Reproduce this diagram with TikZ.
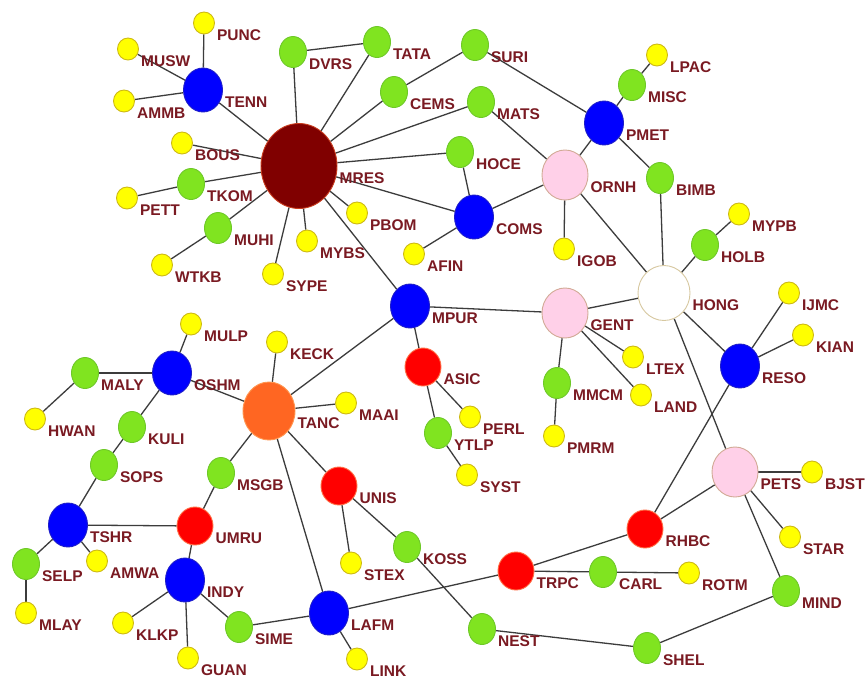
\documentclass[tikz,border=0pt]{standalone}
\usepackage{fontspec}
\setmainfont{Liberation Sans}
\usetikzlibrary{shapes.geometric,calc}
\pgfdeclarelayer{bg}
\pgfsetlayers{bg,main}
\definecolor{cY}{RGB}{255,255,0}
\definecolor{cYb}{RGB}{205,185,20}
\definecolor{cG}{RGB}{128,228,32}
\definecolor{cGb}{RGB}{110,200,40}
\definecolor{cB}{RGB}{0,0,255}
\definecolor{cBb}{RGB}{30,30,200}
\definecolor{cR}{RGB}{255,0,0}
\definecolor{cRb}{RGB}{255,110,70}
\definecolor{cO}{RGB}{255,102,34}
\definecolor{cOb}{RGB}{255,150,80}
\definecolor{cM}{RGB}{128,0,0}
\definecolor{cMb}{RGB}{200,60,30}
\definecolor{cP}{RGB}{255,208,232}
\definecolor{cPb}{RGB}{210,170,150}
\definecolor{cWb}{RGB}{215,200,160}
\definecolor{cT}{RGB}{122,26,34}
\definecolor{cE}{RGB}{60,60,60}
\tikzset{
  base/.style={ellipse, draw, line width=0.9pt, inner sep=0pt},
  yn/.style={base, fill=cY, draw=cYb, minimum width=21, minimum height=22},
  gn/.style={base, fill=cG, draw=cGb, minimum width=27, minimum height=31},
  bn/.style={base, fill=cB, draw=cBb, minimum width=39, minimum height=44},
  rn/.style={base, fill=cR, draw=cRb, minimum width=36, minimum height=38},
  on/.style={base, fill=cO, draw=cOb, minimum width=52, minimum height=58},
  mn/.style={base, fill=cM, draw=cMb, minimum width=76, minimum height=85},
  pn/.style={base, fill=cP, draw=cPb, minimum width=46, minimum height=50},
  wn/.style={base, fill=white, draw=cWb, minimum width=52, minimum height=55},
  lbl/.style={anchor=west, inner sep=0pt, text=cT, font=\bfseries\fontsize{15.5}{16}\selectfont},
  edge/.style={draw=cE, line width=1.3pt}
}
\newcommand\gnode[4]{\node[#1] (#2) at (#3,#4) {}; \node[lbl] (#2L) at ($(#2.east)+(2,12)$) {#2};}
\begin{document}
\begin{tikzpicture}[x=1pt,y=-1pt]
\useasboundingbox (0,0) rectangle (865,678);
\gnode{mn}{MRES}{299}{166}
\gnode{bn}{TENN}{203}{90}
\gnode{yn}{PUNC}{204}{23}
\gnode{yn}{MUSW}{128}{49}
\gnode{yn}{AMMB}{124}{101}
\gnode{yn}{BOUS}{182}{143}
\gnode{gn}{TKOM}{191}{184}
\gnode{yn}{PETT}{127}{198}
\gnode{gn}{MUHI}{218}{228}
\gnode{yn}{WTKB}{162}{265}
\gnode{yn}{SYPE}{273}{274}
\gnode{yn}{MYBS}{307}{241}
\gnode{yn}{PBOM}{357}{213}
\gnode{gn}{DVRS}{293}{52}
\gnode{gn}{TATA}{377}{42}
\gnode{gn}{SURI}{475}{45}
\gnode{gn}{CEMS}{394}{92}
\gnode{gn}{MATS}{481}{102}
\gnode{gn}{HOCE}{460}{152}
\gnode{bn}{COMS}{474}{217}
\gnode{yn}{AFIN}{414}{254}
\gnode{pn}{ORNH}{565}{175}
\gnode{bn}{PMET}{604}{123}
\gnode{gn}{MISC}{632}{85}
\gnode{yn}{LPAC}{657}{55}
\gnode{gn}{BIMB}{660}{178}
\gnode{yn}{IGOB}{564}{249}
\gnode{yn}{MYPB}{739}{214}
\gnode{gn}{HOLB}{705}{245}
\gnode{wn}{HONG}{664}{293}
\gnode{pn}{GENT}{565}{313}
\gnode{bn}{MPUR}{410}{306}
\gnode{yn}{LTEX}{633}{357}
\gnode{yn}{LAND}{641}{395}
\gnode{gn}{MMCM}{557}{383}
\gnode{yn}{PMRM}{554}{436}
\gnode{yn}{IJMC}{789}{293}
\gnode{yn}{KIAN}{803}{335}
\gnode{bn}{RESO}{740}{366}
\gnode{pn}{PETS}{735}{472}
\gnode{yn}{BJST}{812}{472}
\gnode{yn}{STAR}{790}{537}
\gnode{rn}{RHBC}{645}{529}
\gnode{gn}{CARL}{603}{572}
\gnode{yn}{ROTM}{689}{573}
\gnode{gn}{MIND}{786}{591}
\gnode{gn}{SHEL}{647}{648}
\gnode{rn}{ASIC}{423}{367}
\gnode{yn}{PERL}{470}{417}
\gnode{gn}{YTLP}{438}{433}
\gnode{yn}{SYST}{467}{475}
\gnode{on}{TANC}{269}{411}
\gnode{yn}{KECK}{277}{342}
\gnode{yn}{MAAI}{346}{403}
\gnode{gn}{MSGB}{221}{473}
\gnode{rn}{UNIS}{339}{486}
\gnode{yn}{STEX}{351}{563}
\gnode{gn}{KOSS}{407}{547}
\gnode{rn}{TRPC}{516}{571}
\gnode{gn}{NEST}{482}{629}
\gnode{bn}{LAFM}{329}{613}
\gnode{yn}{LINK}{357}{659}
\gnode{gn}{SIME}{239}{627}
\gnode{bn}{INDY}{185}{580}
\gnode{yn}{KLKP}{123}{623}
\gnode{yn}{GUAN}{188}{658}
\gnode{rn}{UMRU}{195}{526}
\gnode{bn}{TSHR}{68}{525}
\gnode{gn}{SOPS}{104}{465}
\gnode{gn}{KULI}{132}{427}
\gnode{bn}{OSHM}{172}{373}
\gnode{yn}{MULP}{191}{324}
\gnode{gn}{MALY}{85}{373}
\gnode{yn}{HWAN}{35}{419}
\gnode{gn}{SELP}{26}{564}
\gnode{yn}{AMWA}{97}{561}
\gnode{yn}{MLAY}{26}{613}
\begin{pgfonlayer}{bg}
\fill[white] (0,0) rectangle (865,678);
\foreach \a/\b in {MRES/TENN, MRES/BOUS, MRES/TKOM, MRES/MUHI, MRES/SYPE, MRES/MYBS,
  MRES/PBOM, MRES/MPUR, MRES/COMS, MRES/HOCE, MRES/MATS, MRES/CEMS, MRES/TATA, MRES/DVRS,
  DVRS/TATA, TENN/PUNC, TENN/MUSW, TENN/AMMB, TKOM/PETT, MUHI/WTKB,
  SURI/CEMS, SURI/PMET, MATS/ORNH, HOCE/COMS, COMS/ORNH, COMS/AFIN,
  ORNH/PMET, ORNH/IGOB, ORNH/HONG, PMET/MISC, MISC/LPAC, PMET/BIMB, BIMB/HONG,
  HOLB/MYPB, HOLB/HONG, HONG/GENT, HONG/RESO, HONG/PETS,
  RESO/IJMC, RESO/KIAN, RESO/RHBC, GENT/MPUR, GENT/MMCM, GENT/LTEX, GENT/LAND, MMCM/PMRM,
  MPUR/ASIC, MPUR/TANC, ASIC/PERL, ASIC/YTLP, YTLP/SYST,
  TANC/OSHM, TANC/KECK, TANC/MAAI, TANC/MSGB, TANC/UNIS, TANC/LAFM,
  OSHM/MULP, OSHM/MALY, OSHM/KULI, MALY/HWAN, KULI/SOPS, SOPS/TSHR,
  TSHR/UMRU, TSHR/SELP, TSHR/AMWA, SELP/MLAY, UMRU/MSGB, UMRU/INDY,
  INDY/KLKP, INDY/GUAN, INDY/SIME, SIME/LAFM, LAFM/LINK, LAFM/TRPC,
  UNIS/STEX, UNIS/KOSS, KOSS/NEST, NEST/SHEL, SHEL/MIND, MIND/PETS,
  TRPC/RHBC, TRPC/CARL, CARL/ROTM, RHBC/PETS, PETS/BJST, PETS/STAR}
  \draw[edge] (\a) -- (\b);
\end{pgfonlayer}
\end{tikzpicture}
\end{document}
